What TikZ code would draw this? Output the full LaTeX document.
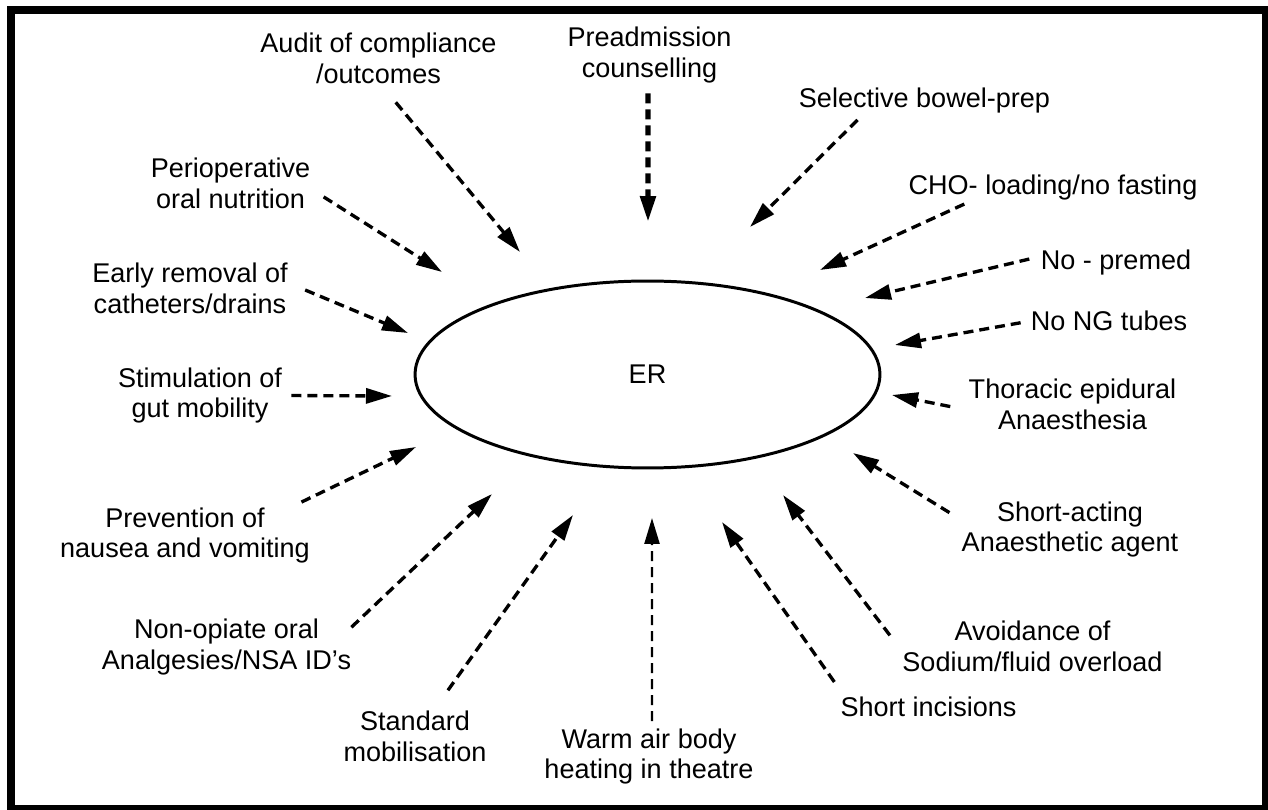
\documentclass[tikz,border=0pt]{standalone}
\usepackage{fontspec}
\setmainfont{Liberation Sans}
\usetikzlibrary{shapes.geometric}
\usetikzlibrary{arrows.meta}

\begin{document}
\begin{tikzpicture}[x=0.02cm,y=-0.02cm,
 lbl/.style={align=center,inner sep=0pt,font=\fontsize{15.4}{17.6}\selectfont},
 arr/.style={line width=1.9pt,dash pattern=on 5.7pt off 3.4pt,-{Triangle[length=0.52cm,width=0.3cm]}}]
\useasboundingbox (0,0) rectangle (1268,810);
\fill[white] (0,0) rectangle (1268,810);
\draw[line width=0.16cm] (11,10.5) rectangle (1266,809);

 \node[draw,ellipse,line width=1.7pt,minimum width=9.3cm,minimum height=3.74cm,inner sep=0pt,font=\fontsize{15.4}{17.6}\selectfont] (er) at (647.5,374.5) {ER};

 \node[lbl] (audit) at (378.5,58.5) {Audit of compliance\\/outcomes};
 \node[lbl] (pread) at (649.5,55) {Preadmission\\counselling};
 \node[lbl] (select) at (924.5,101) {Selective bowel-prep};
 \node[lbl] (cho) at (1053,188) {CHO- loading/no fasting};
 \node[lbl] (premed) at (1116,263) {No - premed};
 \node[lbl] (ngtube) at (1109,321) {No NG tubes};
 \node[lbl] (thoracic) at (1072.5,404.7) {Thoracic epidural\\Anaesthesia};
 \node[lbl] (shortact) at (1070,529.5) {Short-acting\\Anaesthetic agent};
 \node[lbl] (avoid) at (1032.5,646.7) {Avoidance of\\Sodium/fluid overload};
 \node[lbl] (incis) at (928.5,707) {Short incisions};
 \node[lbl] (warm) at (649,756.5) {Warm air body\\heating in theatre};
 \node[lbl] (stdmob) at (415,736) {Standard\\mobilisation};
 \node[lbl] (nonop) at (226.5,647) {Non-opiate oral\\Analgesies/NSA ID's};
 \node[lbl] (prevent) at (185,535.5) {Prevention of\\nausea and vomiting};
 \node[lbl] (stim) at (200,395.5) {Stimulation of\\gut mobility};
 \node[lbl] (early) at (190,288) {Early removal of\\catheters/drains};
 \node[lbl] (periop) at (230.5,183) {Perioperative\\oral nutrition};

 \coordinate (audit-tip) at (520,252);
 \coordinate (pread-tip) at (648,222);
 \coordinate (select-tip) at (750,227);
 \coordinate (cho-tip) at (820,270);
 \coordinate (premed-tip) at (865,298);
 \coordinate (ngtube-tip) at (895,345);
 \coordinate (thoracic-tip) at (892,395);
 \coordinate (shortact-tip) at (853,453);
 \coordinate (avoid-tip) at (783,495);
 \coordinate (incis-tip) at (722,522);
 \coordinate (warm-tip) at (652,518);
 \coordinate (stdmob-tip) at (573,515);
 \coordinate (nonop-tip) at (492,494);
 \coordinate (prevent-tip) at (416,447);
 \coordinate (stim-tip) at (392,396);
 \coordinate (early-tip) at (408,333);
 \coordinate (periop-tip) at (442,272);

 \draw[arr,shorten <=0.47cm] (audit.-85.5) -- (audit-tip);
 \draw[arr,line width=3pt,shorten <=0.2cm] (pread.-93) -- (pread-tip);
 \draw[arr,shorten <=0.17cm] (select.192) -- (select-tip);
 \draw[arr,shorten <=0.15cm] (cho.189.4) -- (cho-tip);
 \draw[arr,shorten <=0.23cm] (premed.175) -- (premed-tip);
 \draw[arr,shorten <=0.2cm] (ngtube.180) -- (ngtube-tip);
 \draw[arr,shorten <=0.37cm] (thoracic.183.3) -- (thoracic-tip);
 \draw[arr,shorten <=0.28cm] (shortact.175.4) -- (shortact-tip);
 \draw[arr,shorten <=0.4cm] (avoid.182.3) -- (avoid-tip);
 \draw[arr,shorten <=0.36cm] (incis.173.6) -- (incis-tip);
 \draw[arr,line width=1.4pt,shorten <=0.14cm] (warm.84.2) -- (warm-tip);
 \draw[arr,shorten <=0.49cm] (stdmob.54.3) -- (stdmob-tip);
 \draw[arr] (nonop.9.4) -- (nonop-tip);
 \draw[arr,shorten <=0.23cm] (prevent.15) -- (prevent-tip);
 \draw[arr,shorten <=0.18cm] (stim.0) -- (stim-tip);
 \draw[arr,shorten <=0.37cm] (early.3) -- (early-tip);
 \draw[arr,shorten <=0.31cm] (periop.-4) -- (periop-tip);

\end{tikzpicture}
\end{document}
